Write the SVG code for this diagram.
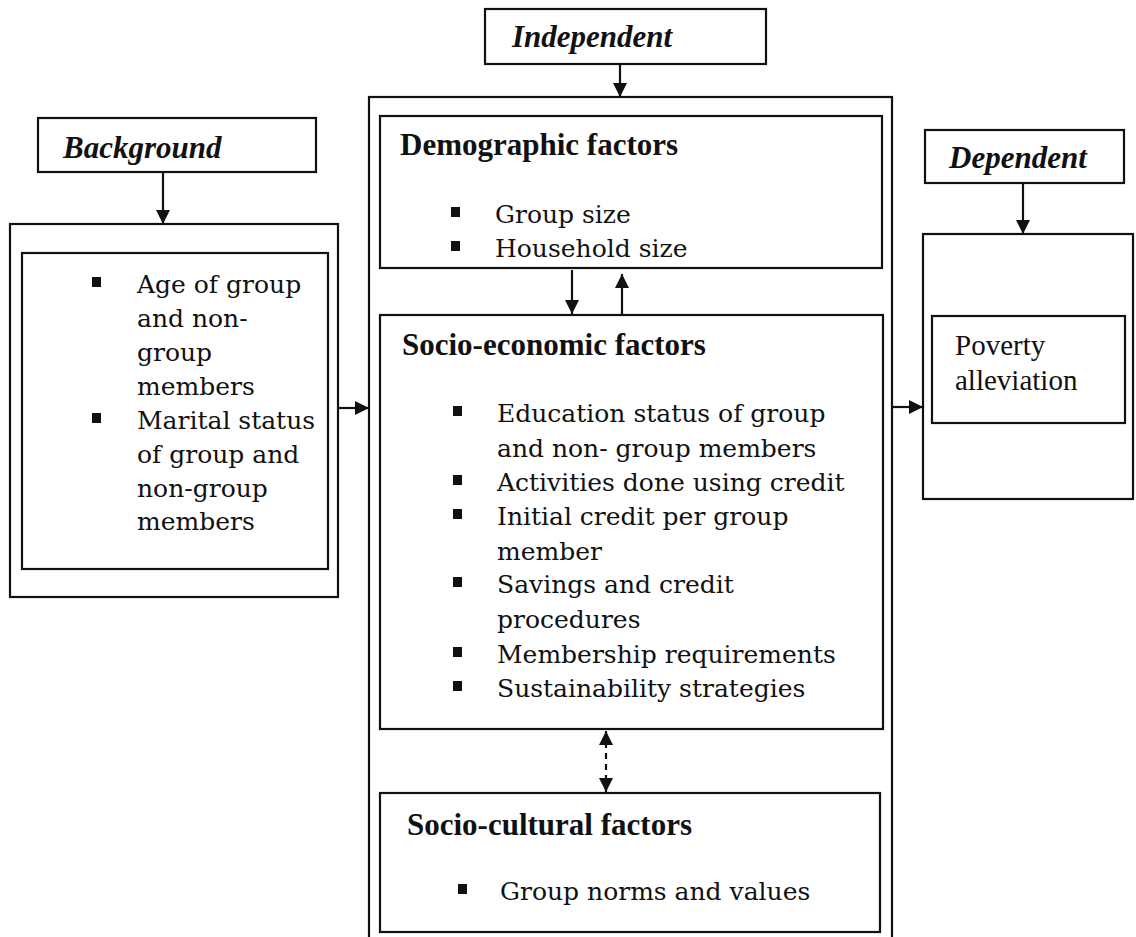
<svg xmlns="http://www.w3.org/2000/svg" width="1136" height="937" viewBox="0 0 1136 937">
<defs>
<style>
.box{fill:none;stroke:#111;stroke-width:2.2}
.hdr{font-family:"Liberation Serif","Times New Roman",serif;font-weight:bold;font-style:italic;font-size:31px;fill:#111}
.ttl{font-family:"Liberation Serif","Times New Roman",serif;font-weight:bold;font-size:31px;fill:#111}
.itm{font-family:"DejaVu Serif","Liberation Serif",serif;font-size:25px;fill:#111}
.pov{font-family:"Liberation Serif","Times New Roman",serif;font-size:29px;fill:#111}
.bul{fill:#111}
.con{fill:none;stroke:#111;stroke-width:2.2}
.dash{stroke-dasharray:6,5}
</style>
<marker id="ah" viewBox="0 0 10 10" refX="10" refY="5" markerWidth="6.5" markerHeight="6.5" orient="auto-start-reverse" markerUnits="strokeWidth">
<path d="M0,0 L10,5 L0,10 z" fill="#111"/>
</marker>
</defs>
<rect width="1136" height="937" fill="#fff"/>

<g id="independent-header">
<rect class="box" x="485" y="9" width="281" height="55"/>
<text class="hdr" x="512" y="47">Independent</text>
</g>

<g id="background-header">
<rect class="box" x="38" y="118" width="278" height="54"/>
<text class="hdr" x="63" y="158">Background</text>
</g>

<g id="dependent-header">
<rect class="box" x="925" y="130" width="199" height="53"/>
<text class="hdr" x="949" y="168">Dependent</text>
</g>

<g id="background-variables">
<rect class="box" x="10" y="224" width="328" height="373"/>
<rect class="box" x="22" y="253" width="306" height="316"/>
<rect class="bul" x="92" y="277" width="9" height="10"/>
<text class="itm" x="137" y="293">Age of group</text>
<text class="itm" x="137" y="327">and non-</text>
<text class="itm" x="137" y="361">group</text>
<text class="itm" x="137" y="395">members</text>
<rect class="bul" x="92" y="413" width="9" height="10"/>
<text class="itm" x="137" y="429">Marital status</text>
<text class="itm" x="137" y="463">of group and</text>
<text class="itm" x="137" y="497">non-group</text>
<text class="itm" x="137" y="530">members</text>
</g>

<g id="independent-variables">
<rect class="box" x="369" y="97" width="523" height="860"/>
</g>

<g id="demographic-factors">
<rect class="box" x="380" y="116" width="502" height="152"/>
<text class="ttl" x="400" y="155">Demographic factors</text>
<rect class="bul" x="451" y="207" width="9" height="10"/>
<text class="itm" x="495" y="223">Group size</text>
<rect class="bul" x="451" y="241" width="9" height="10"/>
<text class="itm" x="495" y="257">Household size</text>
</g>

<g id="socio-economic-factors">
<rect class="box" x="380" y="315" width="503" height="414"/>
<text class="ttl" x="402" y="355">Socio-economic factors</text>
<rect class="bul" x="453" y="406" width="9" height="10"/>
<text class="itm" x="497" y="422">Education status of group</text>
<text class="itm" x="497" y="457">and non- group members</text>
<rect class="bul" x="453" y="475" width="9" height="10"/>
<text class="itm" x="497" y="491">Activities done using credit</text>
<rect class="bul" x="453" y="509" width="9" height="10"/>
<text class="itm" x="497" y="525">Initial credit per group</text>
<text class="itm" x="497" y="560">member</text>
<rect class="bul" x="453" y="577" width="9" height="10"/>
<text class="itm" x="497" y="593">Savings and credit</text>
<text class="itm" x="497" y="628">procedures</text>
<rect class="bul" x="453" y="647" width="9" height="10"/>
<text class="itm" x="497" y="663">Membership requirements</text>
<rect class="bul" x="453" y="681" width="9" height="10"/>
<text class="itm" x="497" y="697">Sustainability strategies</text>
</g>

<g id="socio-cultural-factors">
<rect class="box" x="380" y="793" width="500" height="139"/>
<text class="ttl" x="407" y="835">Socio-cultural factors</text>
<rect class="bul" x="458" y="884" width="9" height="10"/>
<text class="itm" x="500" y="900">Group norms and values</text>
</g>

<g id="dependent-variable">
<rect class="box" x="923" y="234" width="210" height="265"/>
<rect class="box" x="932" y="316" width="193" height="107"/>
<text class="pov" x="955" y="355">Poverty</text>
<text class="pov" x="955" y="390">alleviation</text>
</g>

<g id="connectors">
<line class="con" x1="620" y1="64" x2="620" y2="97" marker-end="url(#ah)"/>
<line class="con" x1="163" y1="172" x2="163" y2="224" marker-end="url(#ah)"/>
<line class="con" x1="1023" y1="183" x2="1023" y2="234" marker-end="url(#ah)"/>
<line class="con" x1="338" y1="408" x2="369" y2="408" marker-end="url(#ah)"/>
<line class="con" x1="892" y1="407" x2="923" y2="407" marker-end="url(#ah)"/>
<line class="con" x1="572" y1="270" x2="572" y2="314" marker-end="url(#ah)"/>
<line class="con" x1="622" y1="315" x2="622" y2="274" marker-end="url(#ah)"/>
<line class="con dash" x1="606" y1="731" x2="606" y2="792" marker-start="url(#ah)" marker-end="url(#ah)"/>
</g>
</svg>
